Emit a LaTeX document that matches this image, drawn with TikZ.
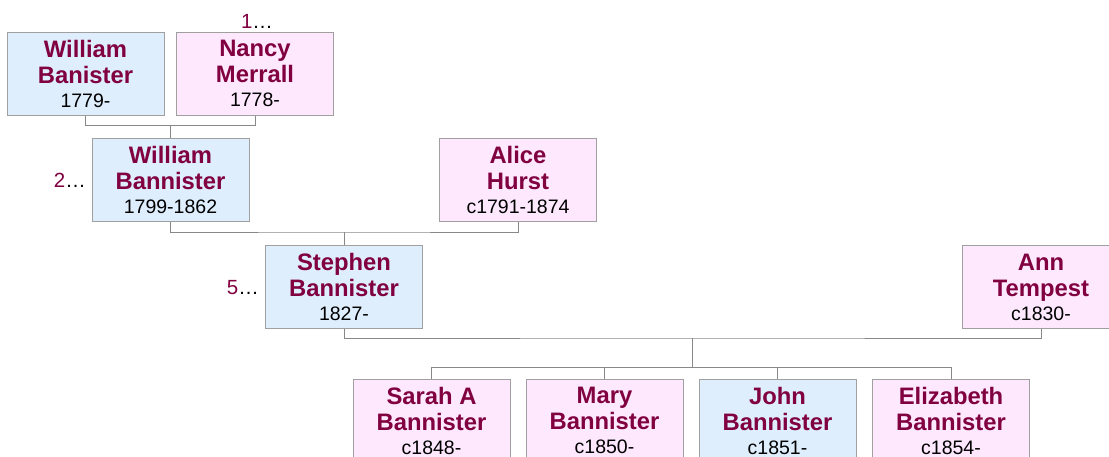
\documentclass[tikz,border=0pt]{standalone}
\usepackage{fontspec}
\setmainfont{Liberation Sans}
\definecolor{namecol}{RGB}{128,0,64}
\definecolor{malefill}{RGB}{222,238,253}
\definecolor{femfill}{RGB}{253,232,253}
\definecolor{boxline}{RGB}{160,160,160}
\definecolor{linecol}{RGB}{136,136,136}
\newcommand\namef{\fontsize{23.8}{26}\selectfont\bfseries\color{namecol}}
\newcommand\datef{\fontsize{19.5}{22}\selectfont\color{black}}
\newcommand\pers[3]{{\namef #1}\\{\namef #2}\\[-2pt]{\datef #3}}
\newcommand\gen[1]{{\color{namecol}#1}…}
\begin{document}
\begin{tikzpicture}[x=1pt,y=-1pt,
  person/.style={draw=boxline,line width=1pt,minimum width=157pt,minimum height=83pt,
    inner sep=0pt,align=center,font=\fontsize{23.8}{26}\selectfont},
  male/.style={person,fill=malefill},
  female/.style={person,fill=femfill},
  conn/.style={draw=linecol,line width=1pt},
  genlbl/.style={font=\fontsize{20.5}{24}\selectfont,inner sep=0pt}]
\useasboundingbox (0,0) rectangle (1109,456);
% persons
\node[male]   (wb1) at (85.5,73.5)  {\pers{William}{Banister}{1779-}};
\node[female] (nm)  at (255,73.5)   {\pers{Nancy}{Merrall}{1778-}};
\node[male]   (wb2) at (170.5,180)  {\pers{William}{Bannister}{1799-1862}};
\node[female] (ah)  at (518,180)    {\pers{Alice}{Hurst}{c1791-1874}};
\node[male]   (sb)  at (344,287)    {\pers{Stephen}{Bannister}{1827-}};
\node[female] (at)  at (1041,287)   {\pers{Ann}{Tempest}{c1830-}};
\node[female] (sa)  at (431.5,420.5) {\pers{Sarah A}{Bannister}{c1848-}};
\node[female] (mb)  at (604.5,420.5) {\pers{Mary}{Bannister}{c1850-}};
\node[male]   (jb)  at (777.5,420.5) {\pers{John}{Bannister}{c1851-}};
\node[female] (eb)  at (951,420.5)   {\pers{Elizabeth}{Bannister}{c1854-}};
% generation labels
\node[genlbl,anchor=base] (g1) at (257,28) {\gen{1}};
\node[genlbl,anchor=base east] (g2) at (86,187) {\gen{2}};
\node[genlbl,anchor=base east] (g5) at (259,294) {\gen{5}};
% connectors
\coordinate (c1) at (170.5,125.5);
\draw[conn] (wb1.south) |- (c1) -| (nm.south);
\draw[conn] (c1) -- (wb2.north);
\coordinate (c2) at (344,232);
\draw[conn] (wb2.south) |- (c2) -| (ah.south);
\draw[conn] (c2) -- (sb.north);
\coordinate (c3) at (692,338);
\coordinate (c4) at (692,367);
\draw[conn] (sb.south) |- (c3) -| (at.south);
\draw[conn] (c3) -- (c4);
\draw[conn] (c4) -| (sa.north);
\draw[conn] (c4) -| (mb.north);
\draw[conn] (c4) -| (jb.north);
\draw[conn] (c4) -| (eb.north);
\end{tikzpicture}
\end{document}
